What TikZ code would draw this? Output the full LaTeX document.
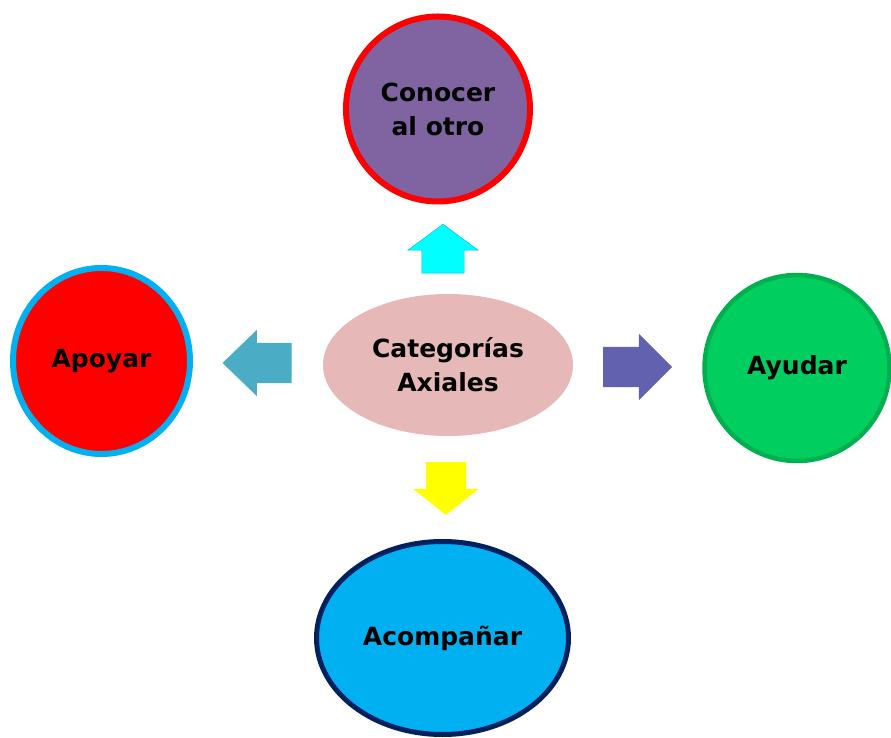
\documentclass[tikz,border=0pt]{standalone}
\usepackage{fontspec}
\setmainfont{DejaVu Sans}
\usetikzlibrary{shapes,arrows}
\usetikzlibrary{calc,positioning}
\definecolor{rosa}{HTML}{E6B9B8}
\definecolor{morado}{HTML}{8064A2}
\definecolor{celeste}{HTML}{00B0F0}
\definecolor{aqua}{HTML}{00FFFF}
\definecolor{verde}{HTML}{00CF60}
\definecolor{verdeosc}{HTML}{00B050}
\definecolor{marino}{HTML}{002060}
\definecolor{turquesa}{HTML}{4BACC6}
\definecolor{lila}{HTML}{6161B0}
\definecolor{amarillo}{HTML}{FFFF00}
\tikzstyle{centro} = [ellipse,minimum width=250pt,minimum height=142pt,inner sep=0pt,align=center,fill=rosa]
\tikzstyle{circulo} = [ellipse,inner sep=0pt,align=center]
\tikzstyle{flecha} = [single arrow,single arrow head extend=13pt,inner xsep=0pt,inner ysep=20pt,draw=none]

\begin{document}
\begin{tikzpicture}[x=1pt,y=1pt,node distance=256pt,font=\bfseries\fontsize{25}{34}\selectfont]

\useasboundingbox (-448,-373) rectangle (443,365);

\node (cat) [centro] {Categorías\\Axiales};
\node (conocer) [circulo,fill=morado,draw=red,line width=6pt,minimum width=184pt,minimum height=185pt,above of=cat,xshift=-10pt] {Conocer\\al otro};
\node (apoyar) [circulo,fill=red,draw=celeste,line width=6pt,minimum width=177pt,minimum height=186pt,left of=cat,shift={(-90.5pt,4pt)}] {Apoyar};
\node (ayudar) [circulo,fill=verde,draw=verdeosc,line width=4.5pt,minimum width=185pt,minimum height=186pt,right of=cat,shift={(93pt,-3pt)}] {Ayudar};
\node (acomp) [circulo,fill=celeste,draw=marino,line width=5pt,minimum width=252pt,minimum height=193pt,below of=cat,shift={(-5.5pt,-17pt)}] {Acompañar};

\node (fsub) [flecha,fill=aqua,draw=celeste,thin,inner ysep=21pt,single arrow head extend=14pt,minimum height=49pt,single arrow tip angle=107,above of=cat,shift={(-5pt,-147.5pt)},rotate=90] {};
\node (fizq) [flecha,fill=turquesa,minimum height=69pt,single arrow tip angle=88,left of=cat,shift={(75.5pt,2pt)},rotate=180] {};
\node (fder) [flecha,fill=lila,minimum height=69pt,single arrow tip angle=90,right of=cat,shift={(-76.5pt,-2pt)}] {};
\node (fbaj) [flecha,fill=amarillo,single arrow head extend=12.5pt,minimum height=53pt,single arrow tip angle=103,below of=cat,shift={(-2pt,140.5pt)},rotate=-90] {};

\end{tikzpicture}
\end{document}
